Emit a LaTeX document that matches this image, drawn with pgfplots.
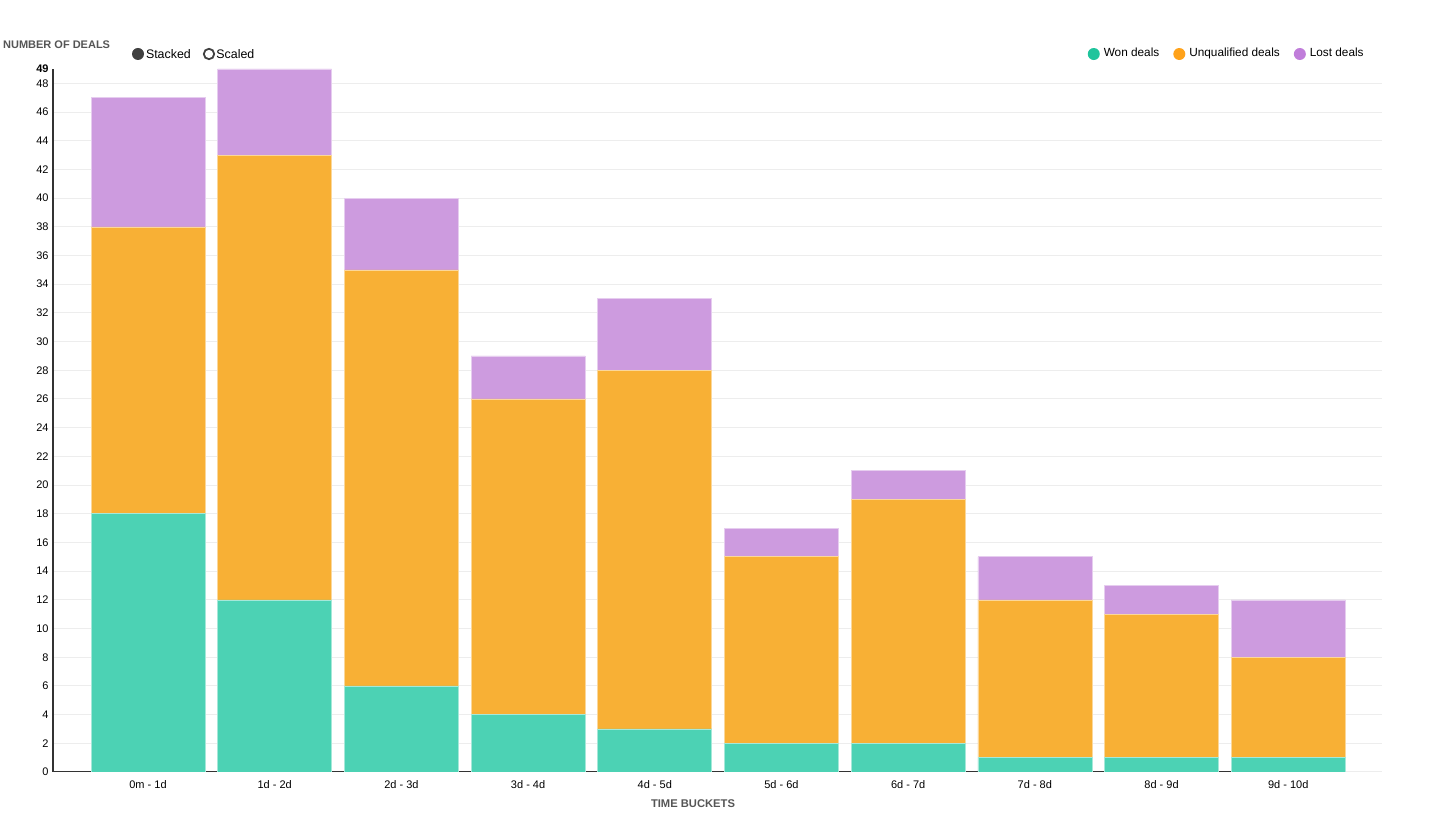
\documentclass[border=0pt]{standalone}
\usepackage{pgfplots}
\pgfplotsset{compat=1.18}
\usepackage{fontspec}
\setmainfont{Liberation Sans}
\definecolor{wonc}{HTML}{1FC49C}
\definecolor{unqc}{HTML}{FFA21A}
\definecolor{lostc}{HTML}{C07DDA}
\definecolor{wonb}{HTML}{4CD2B4}
\definecolor{unqb}{HTML}{F8B035}
\definecolor{lostb}{HTML}{CD9BDF}
\definecolor{titlegray}{HTML}{555555}
\begin{document}
\begin{tikzpicture}
\begin{axis}[
  at={(26.5pt,28.5pt)}, anchor=south west,
  scale only axis, width=664.5pt, height=351.5pt,
  ybar stacked, bar width=0.9,
  xmin=-0.75, xmax=9.74, ymin=0, ymax=49,
  xtick={0,...,9},
  xticklabels={0m - 1d,1d - 2d,2d - 3d,3d - 4d,4d - 5d,5d - 6d,6d - 7d,7d - 8d,8d - 9d,9d - 10d},
  ytick={0,2,...,48},
  extra y ticks={49},
  extra y tick style={grid=none, yticklabel style={font=\bfseries\fontsize{5.5}{6}\selectfont}},
  major tick length=0pt,
  axis lines*=left, separate axis lines,
  x axis line style={draw=none},
  y axis line style={draw=black!80, line width=0.6pt},
  ymajorgrids, grid style={draw=black!7, line width=0.5pt},
  /pgf/number format/assume math mode=true,
  tick label style={font=\fontsize{5.5}{6}\selectfont, text=black},
  yticklabel style={inner sep=1pt, xshift=-1pt},
  xticklabel style={inner sep=0pt, yshift=-4pt},
  legend style={at={(0.9895,1.0213)}, anchor=east, draw=none, fill=none,
    legend columns=3, inner sep=0pt,
    font=\fontsize{5.9}{7}\selectfont,
    /tikz/every even column/.append style={column sep=5pt},
    /tikz/every odd column/.append style={column sep=0pt}},
  legend image code/.code={\fill[#1, fill opacity=1, draw=none] (0pt,0pt) circle (3pt);},
]
\addplot+[fill=wonb, draw=wonb!50!white, line width=0.3pt, legend image post style={fill=wonc}] coordinates {(0,18) (1,12) (2,6) (3,4) (4,3) (5,2) (6,2) (7,1) (8,1) (9,1)};
\addplot+[fill=unqb, draw=unqb!50!white, line width=0.3pt, legend image post style={fill=unqc}] coordinates {(0,20) (1,31) (2,29) (3,22) (4,25) (5,13) (6,17) (7,11) (8,10) (9,7)};
\addplot+[fill=lostb, draw=lostb!50!white, line width=0.3pt, legend image post style={fill=lostc}] coordinates {(0,9) (1,6) (2,5) (3,3) (4,5) (5,2) (6,2) (7,3) (8,2) (9,4)};
\legend{Won deals,Unqualified deals,Lost deals}
\draw[black!80, line width=0.6pt] (axis cs:-0.75,0) -- (axis cs:9.35,0);
\end{axis}
\node[font=\bfseries\fontsize{5.5}{6}\selectfont, text=titlegray] at (28.3pt,392pt) {NUMBER OF DEALS};
\node[font=\bfseries\fontsize{5.6}{6}\selectfont, text=titlegray] at (346.5pt,12.5pt) {TIME BUCKETS};
\fill[black!75] (69pt,387.5pt) circle (3pt);
\node[anchor=west, inner sep=0pt, font=\fontsize{6.2}{7}\selectfont] at (72.8pt,387.5pt) {Stacked};
\draw[black!75, line width=0.9pt] (104.5pt,387.5pt) circle (2.6pt);
\node[anchor=west, inner sep=0pt, font=\fontsize{6.2}{7}\selectfont] at (108pt,387.5pt) {Scaled};
\pgfresetboundingbox
\path[use as bounding box] (0,0) rectangle (720.5pt,414.5pt);
\end{tikzpicture}
\end{document}
